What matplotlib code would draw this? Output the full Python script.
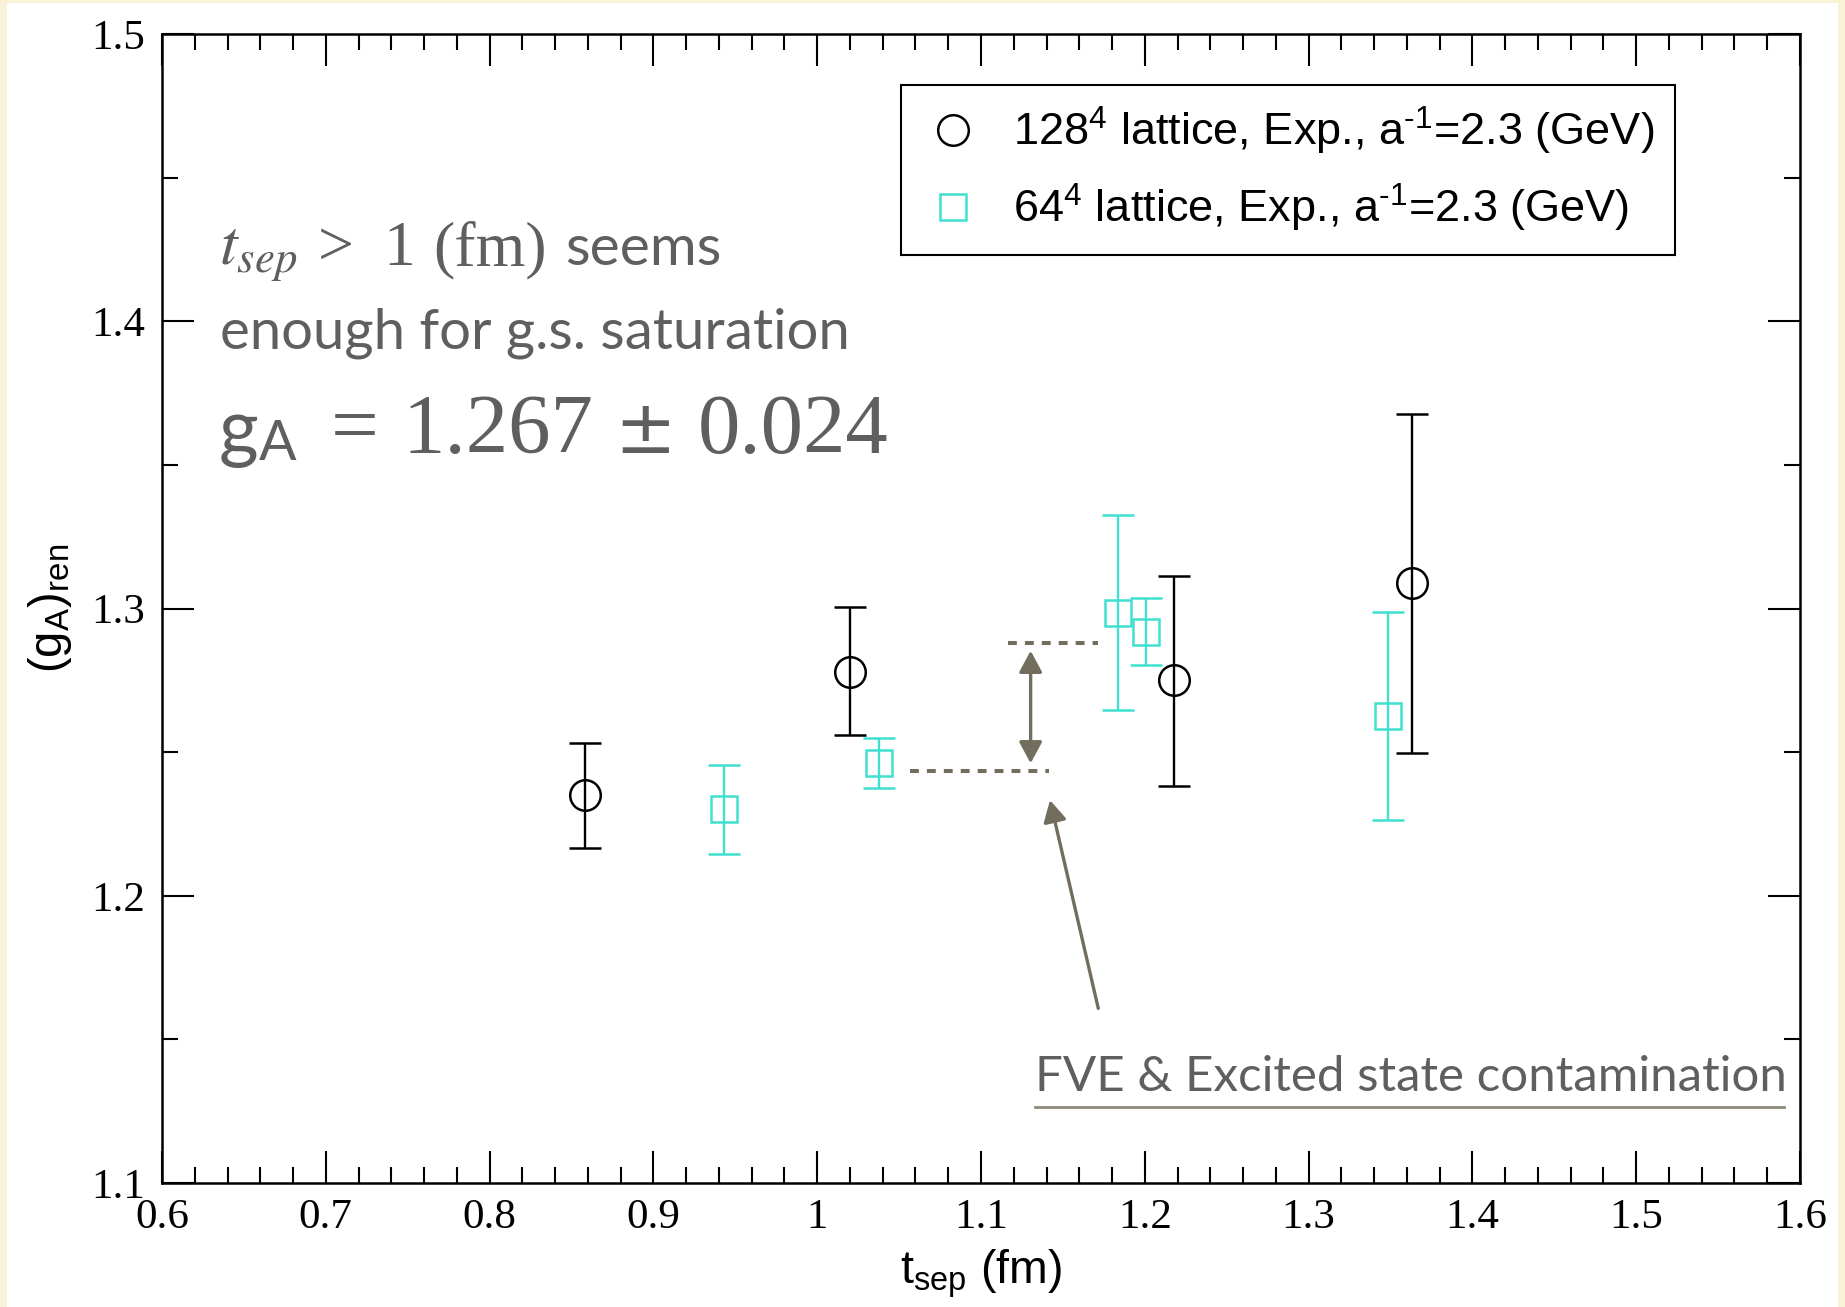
import matplotlib
matplotlib.use("Agg")
import matplotlib.pyplot as plt
from matplotlib.lines import Line2D
from matplotlib.patches import Rectangle
from matplotlib.ticker import MultipleLocator, FuncFormatter

# ---- data ----
t128 = [0.858, 1.020, 1.218, 1.363]
g128 = [1.235, 1.278, 1.275, 1.309]
g128_lo = [1.2165, 1.2559, 1.2382, 1.2496]
g128_hi = [1.2533, 1.3006, 1.3112, 1.3677]

t64 = [0.943, 1.038, 1.1835, 1.2006, 1.3487]
g64 = [1.2301, 1.2463, 1.2985, 1.2919, 1.2626]
g64_lo = [1.2145, 1.2376, 1.2647, 1.2803, 1.2264]
g64_hi = [1.2455, 1.2548, 1.3324, 1.3036, 1.2987]

# dashed guide levels and annotation arrows (data coords)
dash_hi_x = [1.1164, 1.1714]
dash_hi_y = [1.2879, 1.2879]
dash_lo_x = [1.0564, 1.1415]
dash_lo_y = [1.2435, 1.2435]
gap_arrow = [(1.1303, 1.2853), (1.1303, 1.2461)]
note_arrow = [(1.1716, 1.1608), (1.1421, 1.2333)]

labels = [r"128$^4$ lattice, Exp., a$^{\text{-1}}$=2.3 (GeV)",
          r"64$^4$ lattice, Exp., a$^{\text{-1}}$=2.3 (GeV)"]

plt.rcParams["mathtext.fontset"] = "custom"
plt.rcParams["mathtext.rm"] = "Liberation Sans"
plt.rcParams["mathtext.it"] = "Liberation Sans:italic"
plt.rcParams["mathtext.bf"] = "Liberation Sans:bold"

W, H = 1845, 1307
cyan = "#40E0D0"
olive = "#726d5d"
grey = "#5f5f5f"

fig = plt.figure(figsize=(W / 100, H / 100), dpi=100)
fig.patch.set_facecolor("#FAF2D6")
fig.add_artist(Rectangle((7 / W, 0), 1831 / W, (H - 3) / H, transform=fig.transFigure,
                         fc="white", ec="none", zorder=-5))

ax = fig.add_axes([162 / W, (H - 1183) / H, 1638 / W, 1149 / H])

err128 = [[g - l for g, l in zip(g128, g128_lo)], [h - g for g, h in zip(g128, g128_hi)]]
err64 = [[g - l for g, l in zip(g64, g64_lo)], [h - g for g, h in zip(g64, g64_hi)]]

ax.errorbar(t128, g128, yerr=err128, fmt="o", ms=22, mfc="none", mec="black", mew=1.8,
            ecolor="black", elinewidth=1.7, capsize=11.5, capthick=1.7)
ax.errorbar(t64, g64, yerr=err64, fmt="s", ms=19, mfc="none", mec=cyan, mew=1.8,
            ecolor=cyan, elinewidth=1.7, capsize=11.5, capthick=1.7)

ax.plot(dash_hi_x, dash_hi_y, color=olive, lw=2.9, ls=(0, (2.2, 2.0)))
ax.plot(dash_lo_x, dash_lo_y, color=olive, lw=2.9, ls=(0, (2.2, 2.0)))
ax.annotate("", xy=gap_arrow[0], xytext=gap_arrow[1],
            arrowprops=dict(arrowstyle="<|-|>,head_length=0.93,head_width=0.5",
                            mutation_scale=14, color=olive, lw=2.4, shrinkA=0, shrinkB=0))
ax.annotate("", xy=note_arrow[1], xytext=note_arrow[0],
            arrowprops=dict(arrowstyle="-|>,head_length=0.93,head_width=0.5",
                            mutation_scale=14, color=olive, lw=2.4, shrinkA=0, shrinkB=0))

ax.text(1.133, 1.1321, "FVE & Excited state contamination", family="Lato", size=35.5,
        color=grey, va="baseline", ha="left")
ax.plot([1.133, 1.5902], [1.1263, 1.1263], color="#8f8b7b", lw=2)

ax.set_xlim(0.6, 1.6)
ax.set_ylim(1.1, 1.5)
ax.xaxis.set_major_locator(MultipleLocator(0.1))
ax.xaxis.set_minor_locator(MultipleLocator(0.02))
ax.yaxis.set_major_locator(MultipleLocator(0.1))
ax.yaxis.set_minor_locator(MultipleLocator(0.05))
fmt = FuncFormatter(lambda v, p: "%g" % round(v, 3))
ax.xaxis.set_major_formatter(fmt)
ax.yaxis.set_major_formatter(fmt)
ax.tick_params(which="both", direction="in", top=True, right=True, width=1.5)
ax.tick_params(which="major", length=23)
ax.tick_params(which="minor", length=11.5)
ax.tick_params(axis="x", pad=11)
ax.tick_params(axis="y", pad=12)
for lab in ax.get_xticklabels() + ax.get_yticklabels():
    lab.set_family("Liberation Serif")
    lab.set_size(31)
for sp in ax.spines.values():
    sp.set_linewidth(1.8)

ax.set_xlabel(r"$\mathrm{t_{sep}}$ (fm)", family="Liberation Sans", size=33.5)
ax.set_ylabel(r"$\mathrm{(g_A)_{ren}}$", family="Liberation Sans", size=34)
ax.xaxis.set_label_coords(0.5, -0.056)
ax.yaxis.set_label_coords(-0.054, 0.5)

handles = [Line2D([], [], marker="o", ls="none", ms=22, mfc="none", mec="black", mew=1.8),
           Line2D([], [], marker="s", ls="none", ms=19, mfc="none", mec=cyan, mew=1.8)]
leg = ax.legend(handles, labels, loc="upper right", bbox_to_anchor=(0.9237, 0.9556),
                borderaxespad=0, fancybox=False, edgecolor="black", framealpha=1,
                prop={"family": "Liberation Sans", "size": 32.5}, handlelength=1.38,
                handletextpad=0.65, borderpad=0.45, labelspacing=0.55)
leg.get_frame().set_linewidth(1.5)

# mixed-font annotation lines, each piece at its own x (pixels from the left)
def place(y0, pieces):
    for x, s, kw in pieces:
        kw = dict(kw)
        dy = kw.pop("dy", 0)
        fig.text(x / W, 1 - (y0 + dy) / H, s, ha="left", va="baseline", color=grey, **kw)


serif = dict(family="Liberation Serif", size=46)
place(265, [(219, r"$t_{sep}$", dict(math_fontfamily="stix", size=46)),
            (318, ">", serif),
            (383, "1", serif),
            (433, "(fm)", serif),
            (565, "seems", dict(family="Lato", size=41))])
place(348, [(220, "enough for g.s. saturation", dict(family="Lato", size=40.5))])
big = dict(family="Liberation Serif", size=61)
place(453, [(219, "g", dict(family="Lato", size=55)),
            (259, "A", dict(family="Lato", size=40, dy=7)),
            (331, "=", big),
            (402, "1.267", big),
            (614, "\u00b1", dict(family="DejaVu Sans", size=53)),
            (698, "0.024", big)])

fig.savefig("out.png", dpi=100, facecolor=fig.get_facecolor())
